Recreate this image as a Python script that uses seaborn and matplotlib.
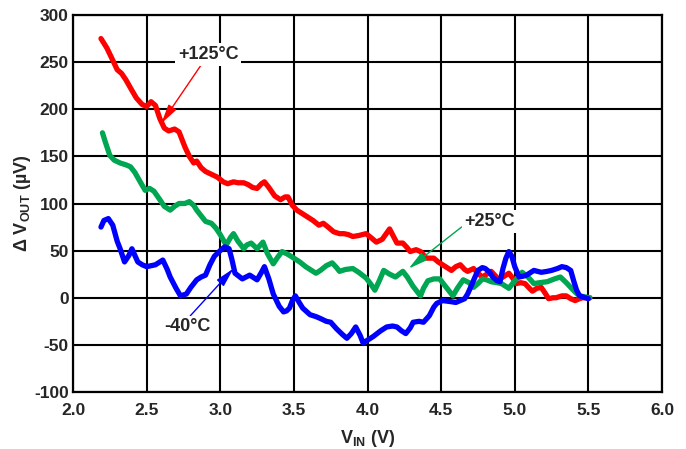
import numpy as np
import pandas as pd
import matplotlib
matplotlib.use('Agg')
import matplotlib.pyplot as plt
import seaborn as sns

# curve data (V_IN in V, delta V_OUT in uV)
red_v = [2.19, 2.23, 2.27, 2.30, 2.33, 2.36, 2.40, 2.43, 2.47, 2.50, 2.53, 2.56, 2.59, 2.62, 2.65,
         2.69, 2.72, 2.76, 2.79, 2.82, 2.84, 2.87, 2.90, 2.94, 2.98, 3.02, 3.05, 3.09, 3.12, 3.16,
         3.19, 3.22, 3.25, 3.28, 3.30, 3.33, 3.37, 3.41, 3.44, 3.46, 3.49, 3.52, 3.55, 3.59, 3.63,
         3.67, 3.70, 3.74, 3.77, 3.81, 3.84, 3.87, 3.90, 3.94, 3.99, 4.03, 4.06, 4.10, 4.15, 4.18,
         4.20, 4.24, 4.27, 4.29, 4.33, 4.36, 4.40, 4.45, 4.48, 4.52, 4.57, 4.60, 4.63, 4.66, 4.68,
         4.72, 4.75, 4.78, 4.81, 4.84, 4.87, 4.89, 4.93, 4.96, 4.99, 5.01, 5.04, 5.07, 5.10, 5.12,
         5.15, 5.18, 5.21, 5.23, 5.26, 5.28, 5.32, 5.35, 5.38, 5.41, 5.44, 5.46, 5.51]
red_dv = [275, 265, 252, 242, 238, 231, 220, 212, 205, 203, 208, 204, 190, 180, 177,
          179, 176, 160, 150, 143, 145, 138, 134, 131, 128, 123, 121, 123, 122, 122,
          120, 117, 116, 121, 123, 117, 108, 104, 107, 107, 98, 93, 90, 86, 82,
          77, 79, 74, 70, 68, 68, 67, 65, 66, 68, 63, 59, 62, 73, 64,
          58, 58, 53, 49, 51, 49, 42, 42, 38, 34, 29, 33, 35, 30, 28,
          31, 26, 22, 25, 28, 23, 19, 23, 26, 20, 15, 16, 15, 10, 7,
          10, 11, 4, -1, 0, 0, 2, 2, -1, -3, -1, 0, 0]

green_v = [2.20, 2.22, 2.25, 2.28, 2.32, 2.36, 2.39, 2.42, 2.46, 2.49, 2.52, 2.55, 2.59, 2.62, 2.66,
           2.69, 2.72, 2.76, 2.79, 2.82, 2.84, 2.87, 2.90, 2.94, 2.97, 3.00, 3.04, 3.07, 3.09, 3.12,
           3.16, 3.18, 3.21, 3.25, 3.29, 3.32, 3.36, 3.39, 3.42, 3.46, 3.50, 3.54, 3.58, 3.62, 3.65,
           3.68, 3.72, 3.76, 3.79, 3.81, 3.85, 3.90, 3.94, 3.99, 4.02, 4.05, 4.08, 4.11, 4.15, 4.19,
           4.24, 4.27, 4.31, 4.36, 4.38, 4.41, 4.45, 4.49, 4.53, 4.58, 4.61, 4.65, 4.69, 4.72, 4.75,
           4.78, 4.81, 4.84, 4.88, 4.91, 4.94, 4.96, 5.00, 5.05, 5.09, 5.13, 5.17, 5.22, 5.27, 5.31,
           5.35, 5.38, 5.41, 5.44, 5.51]
green_dv = [175, 165, 151, 146, 143, 141, 139, 133, 122, 114, 116, 113, 104, 97, 93,
            97, 100, 100, 102, 98, 93, 87, 81, 79, 74, 67, 56, 64, 68, 60,
            52, 56, 58, 52, 59, 47, 36, 43, 49, 46, 42, 38, 33, 29, 26,
            29, 34, 37, 32, 28, 30, 31, 27, 21, 15, 8, 18, 29, 25, 22,
            28, 22, 12, 2, 10, 18, 20, 20, 12, 2, 10, 19, 16, 11, 15,
            20, 19, 17, 16, 15, 12, 10, 18, 27, 22, 15, 16, 17, 20, 22,
            16, 11, 6, 2, 0]

blue_v = [2.19, 2.21, 2.24, 2.27, 2.30, 2.32, 2.35, 2.38, 2.40, 2.42, 2.44, 2.47, 2.50, 2.53, 2.56,
          2.59, 2.61, 2.64, 2.66, 2.70, 2.73, 2.77, 2.80, 2.84, 2.87, 2.90, 2.93, 2.96, 3.00, 3.03,
          3.06, 3.08, 3.10, 3.15, 3.20, 3.25, 3.28, 3.30, 3.33, 3.36, 3.40, 3.43, 3.45, 3.47, 3.49,
          3.51, 3.54, 3.56, 3.61, 3.65, 3.68, 3.72, 3.75, 3.79, 3.83, 3.86, 3.89, 3.92, 3.95, 3.97,
          4.00, 4.04, 4.09, 4.13, 4.17, 4.20, 4.23, 4.26, 4.29, 4.31, 4.35, 4.38, 4.42, 4.45, 4.47,
          4.51, 4.56, 4.60, 4.63, 4.66, 4.68, 4.70, 4.73, 4.75, 4.78, 4.80, 4.83, 4.85, 4.88, 4.90,
          4.92, 4.94, 4.96, 4.98, 5.00, 5.03, 5.06, 5.08, 5.13, 5.18, 5.22, 5.25, 5.29, 5.32, 5.35,
          5.38, 5.40, 5.42, 5.44, 5.50]
blue_dv = [75, 82, 84, 77, 60, 52, 38, 45, 52, 45, 38, 35, 33, 34, 35,
           38, 40, 30, 22, 10, 2, 4, 11, 19, 22, 24, 35, 44, 50, 54,
           52, 40, 26, 20, 24, 19, 27, 33, 20, 4, -9, -15, -14, -11, -3,
           2, -6, -11, -18, -20, -22, -25, -26, -33, -39, -43, -38, -31, -40, -48,
           -45, -41, -35, -31, -30, -31, -35, -38, -32, -26, -25, -26, -19, -10, -6,
           -3, -4, -5, -3, -1, 4, 11, 22, 29, 32, 31, 27, 22, 18, 17,
           31, 42, 49, 44, 33, 22, 23, 24, 29, 27, 28, 29, 31, 33, 32,
           29, 18, 8, 2, -1]

x_ticks = [2.0, 2.5, 3.0, 3.5, 4.0, 4.5, 5.0, 5.5, 6.0]
y_ticks = [-100, -50, 0, 50, 100, 150, 200, 250, 300]

RED = '#ff0000'
GREEN = '#00a651'
BLUE = '#0000ff'

sns.set_style('white')
plt.rcParams['font.family'] = ['Liberation Sans', 'DejaVu Sans']
plt.rcParams['font.weight'] = 'bold'
plt.rcParams['mathtext.fontset'] = 'custom'
plt.rcParams['mathtext.rm'] = 'Liberation Sans:bold'
plt.rcParams['mathtext.default'] = 'rm'

fig = plt.figure(figsize=(6.86, 4.49), dpi=100)
ax = fig.add_axes([73 / 686, 1 - 392 / 449, (662 - 73) / 686, (392 - 15) / 449])

for xs, ys, c in [(red_v, red_dv, RED), (green_v, green_dv, GREEN), (blue_v, blue_dv, BLUE)]:
    df = pd.DataFrame({'vin': xs, 'dv': ys})
    sns.lineplot(data=df, x='vin', y='dv', ax=ax, color=c, lw=3.8, sort=False,
                 solid_capstyle='round', solid_joinstyle='round', zorder=3)

ax.set_xlim(2.0, 6.0)
ax.set_ylim(-100, 300)
ax.set_xticks(x_ticks)
ax.set_yticks(y_ticks)
ax.set_xticklabels([f'{t:.1f}' for t in x_ticks])
ax.set_yticklabels([str(t) for t in y_ticks])
ax.tick_params(length=0, labelsize=12.5)
ax.tick_params(axis='x', pad=8)
ax.tick_params(axis='y', pad=3)
ax.grid(True, color='black', lw=1.5, zorder=1)
ax.set_axisbelow(True)
for s in ax.spines.values():
    s.set_color('black')
    s.set_linewidth(1.6)

ax.set_xlabel('V$_{\\mathrm{IN}}$ (V)', fontsize=13, fontweight='bold', labelpad=7)
ax.set_ylabel('\u0394 V$_{\\mathrm{OUT}}$ (\u00b5V)', fontsize=13, fontweight='bold', labelpad=1)

box = dict(facecolor='white', edgecolor='none', pad=2)
arrow = dict(arrowstyle='-|>,head_length=0.9,head_width=0.22', lw=1.0, shrinkA=0, shrinkB=0)

ax.annotate('+125°C', xy=(2.60, 185), xytext=(2.92, 258), fontsize=13, fontweight='bold',
            ha='center', va='center', bbox=box, zorder=5,
            arrowprops=dict(arrow, color=RED, relpos=(0.4, 0.0)))
ax.annotate('+25°C', xy=(4.28, 31), xytext=(4.83, 81), fontsize=13, fontweight='bold',
            ha='center', va='center', bbox=box, zorder=5,
            arrowprops=dict(arrow, color=GREEN, relpos=(0.0, 0.3)))
ax.annotate('-40°C', xy=(3.09, 31), xytext=(2.78, -31), fontsize=13, fontweight='bold',
            ha='center', va='center', bbox=box, zorder=5,
            arrowprops=dict(arrow, color=BLUE, relpos=(0.5, 1.0)))

fig.savefig('out.png', dpi=100)
